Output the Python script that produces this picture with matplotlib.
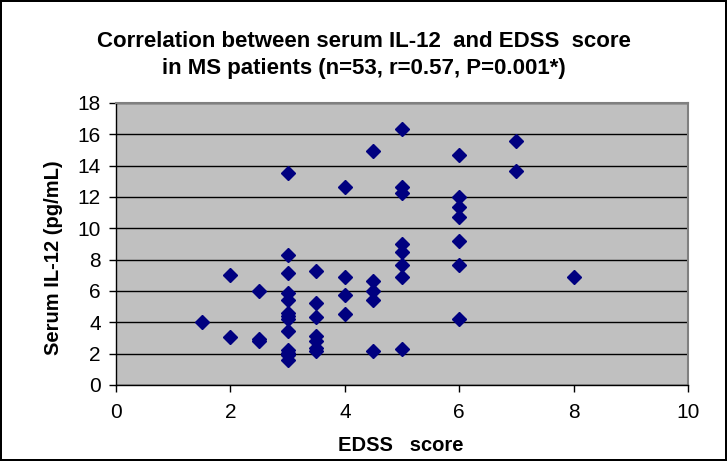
# Scatter of serum IL-12 vs EDSS score
import matplotlib.pyplot as plt

plt.rcParams['font.family'] = ['Liberation Sans', 'DejaVu Sans']

# EDSS score (x) and serum IL-12 (y)
edss = [1.5,
        2, 2,
        2.5, 2.5, 2.5,
        3, 3, 3, 3, 3, 3, 3, 3, 3, 3, 3, 3, 3,
        3.5, 3.5, 3.5, 3.5, 3.5, 3.5, 3.5,
        4, 4, 4, 4,
        4.5, 4.5, 4.5, 4.5, 4.5,
        5, 5, 5, 5, 5, 5, 5, 5,
        6, 6, 6, 6, 6, 6, 6,
        7, 7,
        8]
il12 = [4.0,
        7.0, 3.05,
        6.0, 2.95, 2.8,
        13.5, 8.3, 7.15, 5.9, 5.45, 4.6, 4.4, 4.2, 3.45, 2.25, 2.05, 1.9, 1.6,
        7.3, 5.25, 4.35, 3.1, 2.8, 2.35, 2.15,
        12.65, 6.9, 5.75, 4.5,
        14.95, 6.65, 6.0, 5.45, 2.2,
        16.35, 12.65, 12.25, 9.0, 8.5, 7.65, 6.9, 2.3,
        14.65, 12.0, 11.35, 10.7, 9.2, 7.65, 4.2,
        15.6, 13.65,
        6.9]

fig = plt.figure(figsize=(7.27, 4.61), dpi=100)
fig.patch.set_edgecolor('black')
fig.patch.set_linewidth(1.5)
ax = fig.add_axes([0.1596, 0.1649, 0.7868, 0.6117])
ax.set_facecolor('#C0C0C0')

ax.plot(edss, il12, linestyle='none', marker='D', color='#000080', markersize=7.5)

ax.set_xlim(0, 10)
ax.set_ylim(0, 18)
ax.set_xticks(range(0, 11, 2))
ax.set_yticks(range(0, 19, 2))
ax.yaxis.grid(True, color='black', linewidth=1)
ax.set_axisbelow(True)

for side in ['top', 'right']:
    ax.spines[side].set_color('#808080')
    ax.spines[side].set_linewidth(1.5)
for side in ['left', 'bottom']:
    ax.spines[side].set_color('black')
    ax.spines[side].set_linewidth(1)
ax.tick_params(direction='out', length=5, labelsize=15, width=1)
ax.tick_params(axis='x', pad=8)
ax.tick_params(axis='y', pad=6)

ax.set_xlabel('EDSS   score', fontsize=14.5, fontweight='bold', va='top')
ax.xaxis.set_label_coords(0.498, -0.18)
ax.set_ylabel('Serum IL-12 (pg/mL)', fontsize=14.5, fontweight='bold')
ax.yaxis.set_label_coords(-0.093, 0.45)

fig.text(0.5, 1 - 31 / 461,
         'Correlation between serum IL-12  and EDSS  score\nin MS patients (n=53, r=0.57, P=0.001*)',
         fontsize=16, fontweight='bold', ha='center', va='top', linespacing=1.4)

fig.savefig('out.png', dpi=100)
